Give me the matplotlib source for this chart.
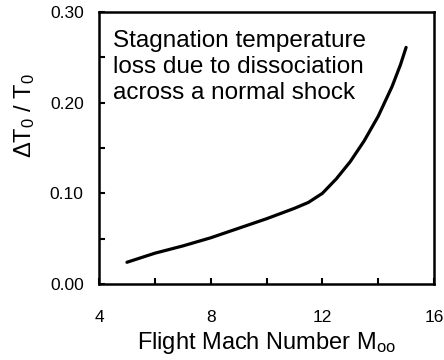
import matplotlib as mpl
mpl.use('Agg')
import matplotlib.pyplot as plt

plt.rcParams['font.family'] = ['Liberation Sans', 'DejaVu Sans']
plt.rcParams['mathtext.default'] = 'regular'

# Curve
mach = [5.0, 6.0, 7.0, 8.0, 9.0, 10.0, 11.0, 11.5, 11.8, 12.0, 12.5, 13.0, 13.5, 14.0, 14.5, 14.8, 15.0]
dT0 = [0.024, 0.034, 0.042, 0.051, 0.0615, 0.072, 0.0835, 0.090, 0.096, 0.100, 0.116, 0.135, 0.158, 0.185, 0.218, 0.242, 0.261]

xticks = [4, 6, 8, 10, 12, 14, 16]
xlabels = ['4', '', '8', '', '12', '', '16']
yticks = [0.00, 0.05, 0.10, 0.15, 0.20, 0.25, 0.30]
ylabels = ['0.00', '', '0.10', '', '0.20', '', '0.30']

fig = plt.figure(figsize=(4.44, 3.6), dpi=100)
ax = fig.add_axes([0.223, 0.211, 0.7545, 0.7556])

ax.plot(mach, dT0, color='black', lw=2.3, solid_capstyle='round', solid_joinstyle='round')

ax.set_xlim(4, 16)
ax.set_ylim(0, 0.30)
ax.set_xticks(xticks)
ax.set_xticklabels(xlabels)
ax.set_yticks(yticks)
ax.set_yticklabels(ylabels)
ax.tick_params(axis='both', direction='in', length=4, width=1.5, labelsize=12.5)
ax.tick_params(axis='x', pad=19)
ax.tick_params(axis='y', pad=11)
for s in ax.spines.values():
    s.set_linewidth(1.8)

ax.set_xlabel('Flight Mach Number M$_{oo}$', fontsize=17, labelpad=3)
ax.set_ylabel(r'$\Delta$T$_0$ / T$_0$', fontsize=17)
ax.yaxis.set_label_coords(-0.185, 0.62)

ax.text(0.042, 0.935, 'Stagnation temperature\nloss due to dissociation\nacross a normal shock',
        transform=ax.transAxes, fontsize=17.5, va='top', ha='left', linespacing=1.25)

fig.savefig('out.png', dpi=100)
